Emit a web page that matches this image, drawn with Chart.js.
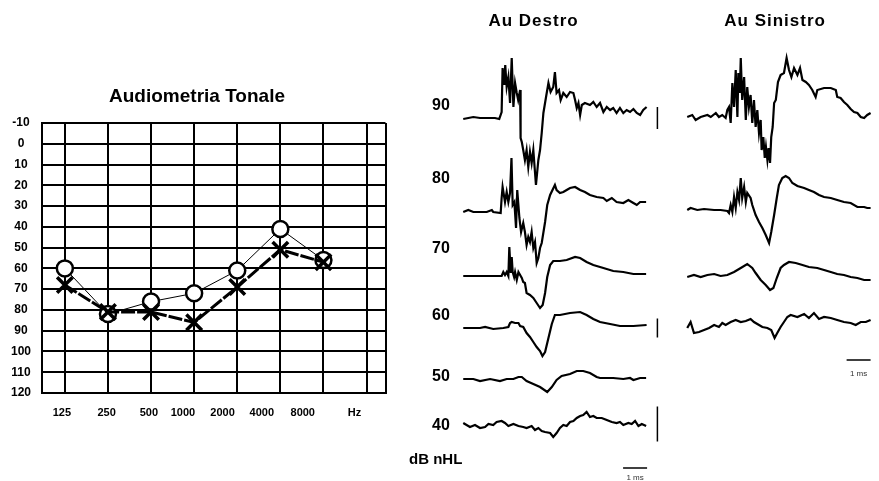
<!DOCTYPE html>
<html>
<head>
<meta charset="utf-8">
<script src="https://cdn.jsdelivr.net/npm/chart.js@4.4.1/dist/chart.umd.min.js"></script>
<style>
  body { margin: 0; background: #fff; }
  canvas { position: absolute; top: 0; }
  #audiogramma { left: 0; }
  #destro { left: 400px; }
  #sinistro { left: 668px; }
</style>
</head>
<body>
<canvas id="audiogramma" width="400" height="481"></canvas>
<canvas id="destro" width="268" height="481"></canvas>
<canvas id="sinistro" width="211" height="481"></canvas>
<script>
// audiometria tonale, soglie in dB HL
const freqLabels = ['125', '250', '500', '1000', '2000', '4000', '8000', 'Hz'];
const sogliaO = [60, 82, 76, 72, 61, 41, 56];
const sogliaX = [68, 81, 81, 86, 69, 51, 57];

// ABR: livelli di stimolo in dB nHL
const destroLevels = [90, 80, 70, 60, 50, 40];
const sinistroLevels = [90, 80, 70, 60];

// tracce [ms, ampiezza]
const destro90 = [[0.01,-1],[0.43,1],[0.71,0],[1.33,0],[1.51,-1],[1.61,6],[1.65,50],[1.72,33],[1.76,53],[1.82,31],[1.89,41],[1.96,15],[2.03,60],[2.10,11],[2.17,35],[2.24,25],[2.30,18],[2.38,28],[2.40,-20],[2.45,-24],[2.51,-32],[2.58,-42],[2.65,-32],[2.72,-49],[2.79,-34],[2.86,-45],[2.93,-32],[3.04,-67],[3.14,-42],[3.21,-32],[3.28,-15],[3.35,5],[3.46,21],[3.56,35],[3.65,26],[3.76,31],[3.83,46],[3.90,25],[4.00,28],[4.07,18],[4.18,25],[4.32,21],[4.46,26],[4.60,25],[4.67,18],[4.74,10],[4.81,15],[4.88,3],[4.95,13],[5.08,15],[5.29,13],[5.43,16],[5.57,11],[5.71,15],[5.85,6],[5.99,11],[6.13,8],[6.26,10],[6.40,5],[6.54,10],[6.68,5],[6.82,8],[6.96,6],[7.10,9],[7.24,5],[7.38,3],[7.51,8],[7.65,11]];
const destro80 = [[0.01,0],[0.22,2],[0.43,0],[0.99,0],[1.20,2],[1.26,0],[1.57,-1],[1.61,14],[1.65,25],[1.75,10],[1.82,20],[1.89,10],[1.96,19],[2.02,54],[2.07,7],[2.14,10],[2.21,-16],[2.26,22],[2.35,-6],[2.42,-20],[2.51,-11],[2.58,-20],[2.65,-33],[2.72,-25],[2.79,-30],[2.86,-20],[2.93,-36],[3.00,-30],[3.07,-51],[3.14,-46],[3.21,-36],[3.28,-31],[3.42,-10],[3.51,7],[3.63,17],[3.83,27],[3.90,22],[4.04,19],[4.18,20],[4.32,22],[4.46,24],[4.67,25],[4.88,22],[5.08,20],[5.29,17],[5.57,15],[5.85,14],[5.99,11],[6.20,14],[6.40,10],[6.68,9],[6.89,12],[7.10,9],[7.24,7],[7.38,10],[7.63,10]];
const destro70 = [[0.01,0],[1.61,0],[1.68,4],[1.75,1],[1.82,4],[1.89,0],[1.93,29],[1.99,3],[2.03,19],[2.07,4],[2.13,-1],[2.17,4],[2.24,-4],[2.31,4],[2.38,1],[2.45,-2],[2.51,-6],[2.58,-7],[2.65,-17],[2.79,-19],[2.93,-22],[3.07,-27],[3.21,-32],[3.32,-29],[3.42,-17],[3.51,-1],[3.63,11],[3.76,15],[4.04,15],[4.32,16],[4.67,19],[4.88,18],[5.15,14],[5.43,11],[5.85,8],[6.26,5],[6.68,4],[7.10,2],[7.63,2]];
const destro60 = [[0.01,0],[0.71,0],[0.92,1],[1.26,-1],[1.68,0],[1.89,1],[1.96,5],[2.03,6],[2.17,5],[2.31,5],[2.38,2],[2.51,1],[2.65,-5],[2.79,-9],[2.93,-14],[3.07,-19],[3.21,-23],[3.31,-28],[3.42,-24],[3.56,-10],[3.70,4],[3.83,13],[4.04,13],[4.46,15],[4.88,16],[5.15,13],[5.43,9],[5.71,6],[6.13,4],[6.54,2],[7.10,2],[7.65,3]];
const destro50 = [[0.01,1],[0.43,1],[0.71,-1],[1.13,1],[1.54,-1],[1.82,1],[2.10,1],[2.31,3],[2.45,3],[2.65,-1],[2.93,-4],[3.21,-7],[3.51,-12],[3.70,-7],[3.90,0],[4.11,4],[4.46,6],[4.74,9],[5.01,9],[5.29,7],[5.57,3],[5.71,2],[5.99,2],[6.26,2],[6.68,1],[6.96,2],[7.10,0],[7.38,2],[7.63,2]];
const destro40 = [[0.01,1],[0.15,-1],[0.29,-3],[0.50,-1],[0.71,-4],[0.92,-3],[1.06,0],[1.26,-1],[1.40,2],[1.61,3],[1.75,1],[1.89,-2],[2.10,0],[2.31,-2],[2.51,-3],[2.65,-4],[2.86,-2],[3.00,-6],[3.14,-4],[3.28,-7],[3.42,-8],[3.63,-9],[3.76,-13],[3.90,-9],[4.04,-4],[4.18,-1],[4.32,-2],[4.46,2],[4.60,3],[4.74,6],[4.88,8],[5.01,9],[5.15,12],[5.29,7],[5.43,8],[5.57,6],[5.78,6],[5.99,4],[6.20,2],[6.40,1],[6.54,2],[6.68,-1],[6.89,1],[7.03,0],[7.17,3],[7.31,-2],[7.45,0],[7.63,-2]];

const sinistro90 = [[0.01,0],[0.22,2],[0.36,-3],[0.57,0],[0.85,2],[0.99,0],[1.20,4],[1.33,0],[1.47,2],[1.61,-1],[1.68,7],[1.75,10],[1.82,-6],[1.89,34],[1.96,10],[2.03,47],[2.10,0],[2.14,44],[2.20,24],[2.24,59],[2.30,17],[2.38,40],[2.45,-3],[2.51,30],[2.58,10],[2.65,22],[2.72,-6],[2.79,17],[2.86,-10],[2.93,7],[3.00,-16],[3.07,-3],[3.11,-33],[3.18,-20],[3.24,-41],[3.29,-30],[3.35,-43],[3.40,-31],[3.46,-46],[3.51,-20],[3.57,-10],[3.63,14],[3.70,17],[3.79,35],[3.90,42],[4.04,44],[4.15,59],[4.25,47],[4.35,40],[4.46,49],[4.60,42],[4.71,49],[4.81,37],[4.95,35],[5.08,32],[5.22,27],[5.36,20],[5.43,27],[5.71,29],[5.99,29],[6.20,27],[6.26,20],[6.40,19],[6.54,15],[6.68,12],[6.82,8],[6.96,5],[7.10,4],[7.24,0],[7.38,-1],[7.51,2],[7.65,4]];
const sinistro80 = [[0.01,0],[0.15,2],[0.43,0],[0.71,1],[1.13,0],[1.40,0],[1.68,-1],[1.75,-3],[1.82,5],[1.89,-2],[1.96,13],[2.03,2],[2.10,18],[2.17,10],[2.24,32],[2.30,12],[2.38,23],[2.45,8],[2.51,17],[2.65,12],[2.72,5],[2.86,-5],[3.00,-12],[3.14,-18],[3.28,-25],[3.42,-33],[3.51,-22],[3.63,-5],[3.74,12],[3.83,25],[3.97,32],[4.11,34],[4.25,32],[4.39,27],[4.60,24],[4.88,22],[5.08,20],[5.29,18],[5.50,15],[5.71,13],[5.99,12],[6.26,10],[6.54,8],[6.82,7],[7.10,3],[7.38,3],[7.51,2],[7.65,2]];
const sinistro70 = [[0.01,0],[0.29,2],[0.57,0],[0.85,2],[1.13,3],[1.40,1],[1.68,2],[1.96,5],[2.24,9],[2.51,13],[2.72,9],[2.86,4],[3.07,-3],[3.28,-8],[3.46,-13],[3.60,-11],[3.74,-1],[3.90,9],[4.04,12],[4.25,15],[4.53,14],[4.81,12],[5.08,10],[5.43,9],[5.71,7],[5.99,5],[6.26,3],[6.54,2],[6.82,0],[7.10,-1],[7.38,-3],[7.65,-3]];
const sinistro60 = [[0.01,2],[0.15,8],[0.29,-3],[0.50,-2],[0.71,0],[0.92,2],[1.13,5],[1.33,3],[1.47,7],[1.61,5],[1.82,8],[2.03,10],[2.24,8],[2.45,9],[2.65,11],[2.79,8],[2.93,6],[3.14,3],[3.35,2],[3.51,0],[3.65,-8],[3.76,-3],[3.90,3],[4.04,8],[4.18,13],[4.32,15],[4.60,13],[4.88,16],[5.08,12],[5.29,17],[5.50,11],[5.71,13],[5.99,12],[6.26,10],[6.54,8],[6.82,7],[7.03,5],[7.24,8],[7.45,8],[7.65,10]];

// barre di calibrazione (ampiezza) accanto alle tracce di destra
const calLevels = [90, 60, 40];
const calHeights = [22, 19, 35];

// ---- impaginazione ----
const FONT = "'Liberation Sans', Arial, sans-serif";
const destroBase = [363, 269, 205, 153, 101, 57];
const destroLabelY = [375, 302, 232, 165, 104, 55];
const sinistroBase = [364, 271, 204, 151];

// scritte libere, posizionate in coordinate dei dati
const scritte = {
  id: 'scritte',
  afterDatasetsDraw(chart, args, opts) {
    const ctx = chart.ctx;
    const { x, y } = chart.scales;
    ctx.save();
    ctx.textBaseline = 'middle';
    for (const s of opts.items || []) {
      ctx.font = s.font;
      ctx.fillStyle = s.color || '#000';
      ctx.textAlign = s.align || 'center';
      ctx.letterSpacing = s.spacing || '0px';
      ctx.fillText(s.text, x.getPixelForValue(s.x), y.getPixelForValue(s.y));
    }
    ctx.restore();
  }
};

const black = '#000';
const tickFont = { family: FONT, size: 12, weight: 'bold' };
const gridOpts = { color: black, lineWidth: 2, drawTicks: false };
const X_MIN = -0.53, X_MAX = 7.44;
const labelPos = [-0.07, 0.97, 1.95, 2.74, 3.66, 4.57, 5.52, 6.72];

new Chart(document.getElementById('audiogramma'), {
  type: 'scatter',
  data: {
    datasets: [
      {
        order: 2,
        data: sogliaO.map((v, i) => ({ x: i, y: v })),
        showLine: true,
        borderColor: black,
        borderWidth: 1,
        pointStyle: 'circle',
        pointRadius: 8,
        pointBorderWidth: 2.5,
        pointBorderColor: black,
        pointBackgroundColor: '#fff'
      },
      {
        order: 1,
        data: sogliaX.map((v, i) => ({ x: i, y: v })),
        showLine: true,
        borderColor: black,
        borderWidth: 3,
        borderDash: [14, 2],
        pointStyle: 'crossRot',
        pointRadius: 11,
        pointBorderWidth: 3.5,
        pointBorderColor: black
      }
    ]
  },
  options: {
    responsive: false,
    animation: false,
    layout: { padding: { left: 8, right: 14, top: 0, bottom: 48 } },
    plugins: {
      legend: { display: false },
      tooltip: { enabled: false },
      title: {
        display: true,
        text: 'Audiometria Tonale',
        color: black,
        font: { family: FONT, size: 19, weight: 'bold', lineHeight: 1.2 },
        padding: { top: 85, bottom: 15.2 }
      }
    },
    scales: {
      x: {
        type: 'linear',
        min: X_MIN,
        max: X_MAX,
        grid: gridOpts,
        border: { color: black, width: 2 },
        ticks: { display: false },
        afterBuildTicks: s => {
          s.ticks = [X_MIN, 0, 1, 2, 3, 4, 5, 6, 7, X_MAX].map(v => ({ value: v }));
        }
      },
      xl: {
        type: 'linear',
        position: 'bottom',
        weight: 1,
        min: X_MIN,
        max: X_MAX,
        grid: { display: false },
        border: { display: false },
        ticks: {
          color: black,
          font: { family: FONT, size: 11, weight: 'bold' },
          padding: 5,
          maxRotation: 0,
          autoSkip: false,
          callback: (v, i) => freqLabels[i]
        },
        afterBuildTicks: s => { s.ticks = labelPos.map(v => ({ value: v })); },
        afterFit: s => { s.height = 40; }
      },
      y: {
        min: -10,
        max: 120,
        reverse: true,
        grid: gridOpts,
        border: { color: black, width: 2 },
        ticks: { stepSize: 10, color: black, font: tickFont, crossAlign: 'center', padding: 11 },
        afterFit: s => { s.width = 34; }
      }
    }
  }
});

function trace(data, base) {
  return {
    data: data.map(([t, a]) => ({ x: t, y: base + a })),
    showLine: true,
    borderColor: black,
    borderWidth: 2.2,
    pointRadius: 0,
    tension: 0
  };
}

function bar(points) {
  return { data: points, showLine: true, borderColor: black, borderWidth: 1.5, pointRadius: 0 };
}

function abrChart(id, xMin, xMax, datasets, items) {
  return new Chart(document.getElementById(id), {
    type: 'scatter',
    data: { datasets },
    options: {
      responsive: false,
      animation: false,
      layout: { padding: 0 },
      plugins: { legend: { display: false }, tooltip: { enabled: false }, scritte: { items } },
      scales: {
        x: { type: 'linear', display: false, min: xMin, max: xMax },
        y: { type: 'linear', display: false, min: 0, max: 481 }
      }
    },
    plugins: [scritte]
  });
}

const destroTraces = [destro90, destro80, destro70, destro60, destro50, destro40];
const sinistroTraces = [sinistro90, sinistro80, sinistro70, sinistro60];

const destroSets = destroTraces.map((d, i) => trace(d, destroBase[i]));
calLevels.forEach((lv, i) => {
  const b = destroBase[destroLevels.indexOf(lv)];
  destroSets.push(bar([{ x: 8.1, y: b - calHeights[i] / 2 }, { x: 8.1, y: b + calHeights[i] / 2 }]));
});
destroSets.push(bar([{ x: 6.67, y: 13 }, { x: 7.67, y: 13 }]));

const levelFont = `bold 16px ${FONT}`;
const destroItems = [
  { text: 'Au Destro', x: 2.94, y: 460, font: `bold 17px ${FONT}`, spacing: '1px' },
  { text: 'dB nHL', x: -2.25, y: 21, font: `bold 15px ${FONT}`, align: 'left' },
  { text: '1 ms', x: 7.17, y: 3.5, font: `8px ${FONT}`, color: '#333' }
].concat(destroLevels.map((lv, i) => ({ text: String(lv), x: -0.92, y: destroLabelY[i], font: levelFont })));

abrChart('destro', -2.625, 8.5417, destroSets, destroItems);

const sinistroSets = sinistroTraces.map((d, i) => trace(d, sinistroBase[i]));
sinistroSets.push(bar([{ x: 6.65, y: 121 }, { x: 7.65, y: 121 }]));

abrChart('sinistro', -0.7917, 8.0, sinistroSets, [
  { text: 'Au Sinistro', x: 3.67, y: 460, font: `bold 17px ${FONT}`, spacing: '1px' },
  { text: '1 ms', x: 7.15, y: 107.5, font: `8px ${FONT}`, color: '#333' }
]);
</script>
</body>
</html>
